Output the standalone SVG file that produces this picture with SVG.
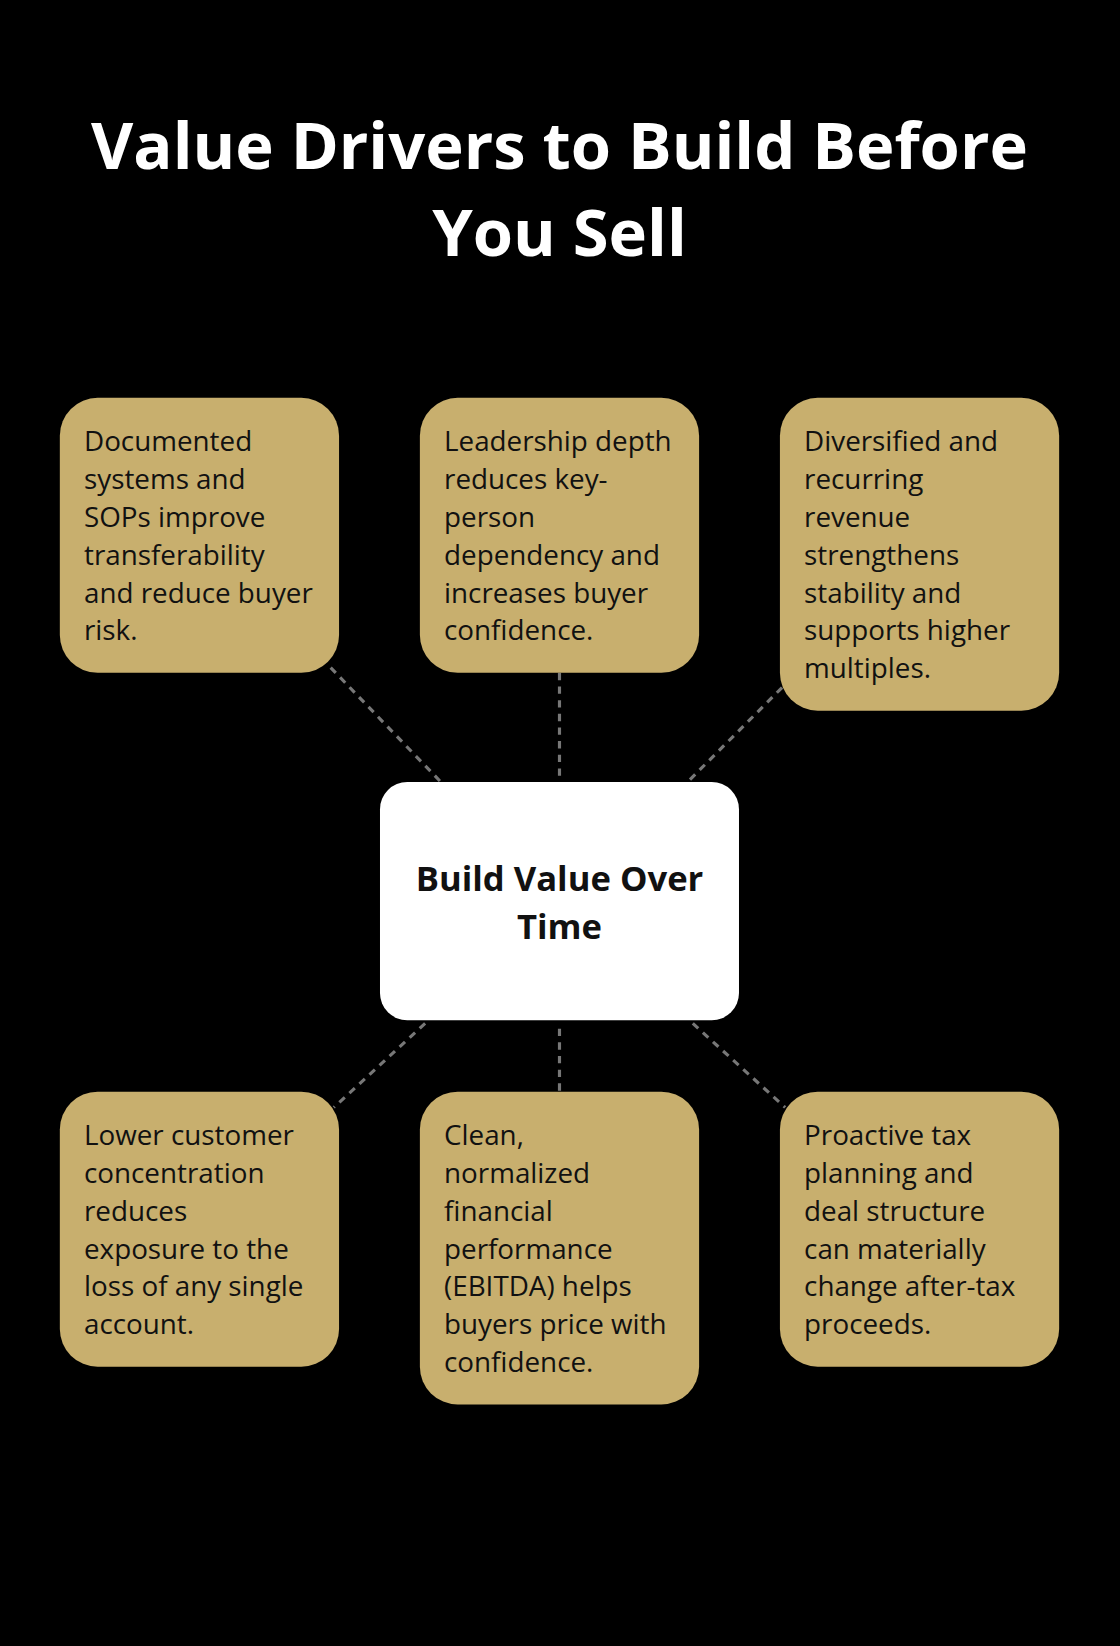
<svg xmlns="http://www.w3.org/2000/svg" width="1120" height="1646" viewBox="0 0 1120 1646">
<style>
.t{font-family:"Open Sans","Liberation Sans",sans-serif;fill:#fff;font-weight:bold;font-size:62px;text-anchor:middle}
.b{fill:#C8AF6E}
.bt{font-family:"Open Sans","Liberation Sans",sans-serif;font-size:26.5px;fill:#111}
.ct{font-family:"Open Sans","Liberation Sans",sans-serif;font-size:33px;font-weight:bold;fill:#111;text-anchor:middle}
.c{stroke:#777;stroke-width:3;stroke-dasharray:7 6;fill:none}
</style>
<rect width="1120" height="1646" fill="#000"/>
<g transform="scale(1.0497)">
<text class="t" x="533" y="161">Value Drivers to Build Before</text>
<text class="t" x="533" y="244">You Sell</text>
<g id="connectors">
<line class="c" x1="315" y1="636" x2="420" y2="745"/>
<line class="c" x1="533" y1="641" x2="533" y2="745"/>
<line class="c" x1="745" y1="655" x2="655" y2="745"/>
<line class="c" x1="405" y1="975" x2="318" y2="1055"/>
<line class="c" x1="533" y1="980" x2="533" y2="1040"/>
<line class="c" x1="660" y1="975" x2="748" y2="1055"/>
</g>
<g id="center"><rect x="362" y="745" width="342" height="227" rx="26" fill="#fff"/>
<text class="ct" x="533" y="849">Build Value Over</text><text class="ct" x="533" y="895">Time</text></g>
<g id="n1"><rect class="b" x="57" y="379" width="266" height="262" rx="36"/>
<text class="bt"><tspan x="80" y="430">Documented</tspan><tspan x="80" dy="36">systems and</tspan><tspan x="80" dy="36">SOPs improve</tspan><tspan x="80" dy="36">transferability</tspan><tspan x="80" dy="36">and reduce buyer</tspan><tspan x="80" dy="36">risk.</tspan></text></g>
<g id="n2"><rect class="b" x="400" y="379" width="266" height="262" rx="36"/>
<text class="bt"><tspan x="423" y="430">Leadership depth</tspan><tspan x="423" dy="36">reduces key-</tspan><tspan x="423" dy="36">person</tspan><tspan x="423" dy="36">dependency and</tspan><tspan x="423" dy="36">increases buyer</tspan><tspan x="423" dy="36">confidence.</tspan></text></g>
<g id="n3"><rect class="b" x="743" y="379" width="266" height="298" rx="36"/>
<text class="bt"><tspan x="766" y="430">Diversified and</tspan><tspan x="766" dy="36">recurring</tspan><tspan x="766" dy="36">revenue</tspan><tspan x="766" dy="36">strengthens</tspan><tspan x="766" dy="36">stability and</tspan><tspan x="766" dy="36">supports higher</tspan><tspan x="766" dy="36">multiples.</tspan></text></g>
<g id="n4"><rect class="b" x="57" y="1040" width="266" height="262" rx="36"/>
<text class="bt"><tspan x="80" y="1091">Lower customer</tspan><tspan x="80" dy="36">concentration</tspan><tspan x="80" dy="36">reduces</tspan><tspan x="80" dy="36">exposure to the</tspan><tspan x="80" dy="36">loss of any single</tspan><tspan x="80" dy="36">account.</tspan></text></g>
<g id="n5"><rect class="b" x="400" y="1040" width="266" height="298" rx="36"/>
<text class="bt"><tspan x="423" y="1091">Clean,</tspan><tspan x="423" dy="36">normalized</tspan><tspan x="423" dy="36">financial</tspan><tspan x="423" dy="36">performance</tspan><tspan x="423" dy="36">(EBITDA) helps</tspan><tspan x="423" dy="36">buyers price with</tspan><tspan x="423" dy="36">confidence.</tspan></text></g>
<g id="n6"><rect class="b" x="743" y="1040" width="266" height="262" rx="36"/>
<text class="bt"><tspan x="766" y="1091">Proactive tax</tspan><tspan x="766" dy="36">planning and</tspan><tspan x="766" dy="36">deal structure</tspan><tspan x="766" dy="36">can materially</tspan><tspan x="766" dy="36">change after-tax</tspan><tspan x="766" dy="36">proceeds.</tspan></text></g>
</g>
</svg>
